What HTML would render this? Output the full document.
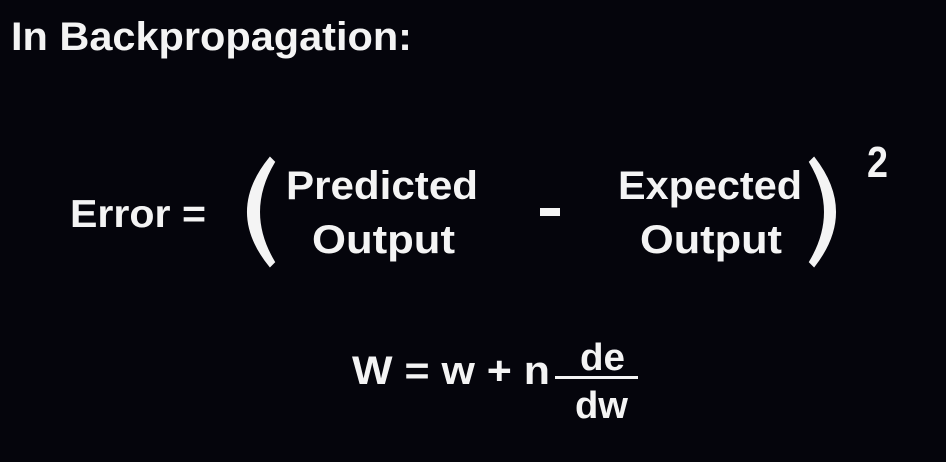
<!DOCTYPE html>
<html><head><meta charset="utf-8"><style>
html,body{margin:0;padding:0;background:#05050c;}
svg{display:block;}
text{font-family:"Liberation Sans",sans-serif;font-weight:bold;fill:#f4f4f4;}
</style></head><body>
<svg width="946" height="462" viewBox="0 0 946 462">
<rect width="946" height="462" fill="#05050c"/>
<text x="11" y="50" font-size="40" textLength="401" lengthAdjust="spacingAndGlyphs">In Backpropagation:</text>
<text x="70" y="227" font-size="39" textLength="136" lengthAdjust="spacingAndGlyphs">Error =</text>
<path d="M270 158 Q226 212 270 266 L274 262 Q244 212 274 162 Z" fill="#f4f4f4" stroke="#f4f4f4" stroke-width="2"/>
<text x="286" y="199" font-size="40" textLength="192" lengthAdjust="spacingAndGlyphs">Predicted</text>
<text x="312" y="253" font-size="40" textLength="143" lengthAdjust="spacingAndGlyphs">Output</text>
<rect x="540" y="208" width="20" height="8" fill="#f4f4f4"/>
<text x="618" y="199" font-size="40" textLength="184" lengthAdjust="spacingAndGlyphs">Expected</text>
<text x="640" y="253" font-size="40" textLength="142" lengthAdjust="spacingAndGlyphs">Output</text>
<path d="M814 158 Q856 212 814 266 L810 262 Q840 212 810 162 Z" fill="#f4f4f4" stroke="#f4f4f4" stroke-width="2"/>
<text x="867" y="177" font-size="44" textLength="21" lengthAdjust="spacingAndGlyphs">2</text>
<text x="352" y="384" font-size="40" textLength="198" lengthAdjust="spacingAndGlyphs">W = w + n</text>
<text x="580" y="370" font-size="38" textLength="45" lengthAdjust="spacingAndGlyphs">de</text>
<rect x="555" y="376" width="83" height="3" fill="#f4f4f4"/>
<text x="575" y="418" font-size="38" textLength="53" lengthAdjust="spacingAndGlyphs">dw</text>
</svg>
</body></html>
